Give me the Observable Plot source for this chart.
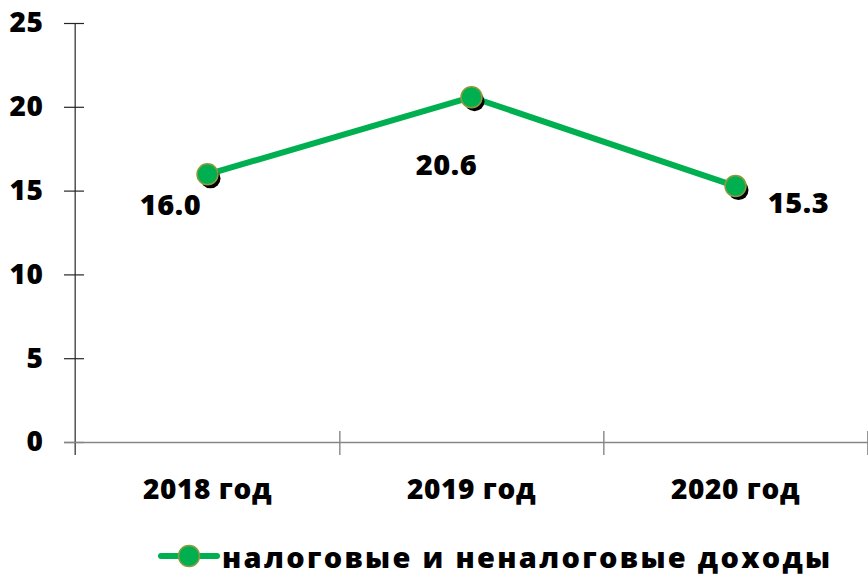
<!DOCTYPE html>
<html>
<head>
<meta charset="utf-8">
<script src="https://cdn.jsdelivr.net/npm/d3@7"></script>
<script src="https://cdn.jsdelivr.net/npm/@observablehq/plot@0.6"></script>
<style>
  html, body { margin: 0; padding: 0; background: #fff; }
  #wrap { width: 868px; height: 576px; position: relative; overflow: hidden; font-family: "Open Sans", sans-serif; }
  #legend { position: absolute; left: 158px; top: 536px; height: 40px; display: flex; align-items: center; }
  #legend span { font-weight: 800; font-size: 29px; letter-spacing: 2.3px; color: #000; margin-left: 2px; white-space: nowrap; }
</style>
</head>
<body>
<div id="wrap"><div id="chart"></div><div id="legend"></div></div>
<script>
const categories = ["2018 год", "2019 год", "2020 год"];
const values = [16.0, 20.6, 15.3];
const valueLabels = ["16.0", "20.6", "15.3"];
const yTicks = [0, 5, 10, 15, 20, 25];
const seriesName = "налоговые и неналоговые доходы";

const data = categories.map((c, i) => ({cat: c, value: values[i], label: valueLabels[i]}));

const W = 868, H = 530, ML = 74, MR = 0, MT = 23, MB = 88;
const bw = (W - ML - MR) / categories.length;
const green = "#00B050";
const font = {fontFamily: "Open Sans", fontWeight: 800};

const labelOffsets = [[-37, 31], [-25, 68], [63, 18]];

const chart = Plot.plot({
  width: W, height: H,
  marginLeft: ML, marginRight: MR, marginTop: MT, marginBottom: MB,
  style: {fontFamily: "Open Sans", fontWeight: 800, fontSize: "28px", color: "#000", background: "#fff", letterSpacing: "0.6px"},
  x: {type: "band", domain: categories, padding: 0, axis: null, label: null},
  y: {domain: [0, 25], axis: null, label: null},
  marks: [
    // y tick marks crossing the axis
    Plot.ruleY(yTicks, {y: d => d, insetLeft: -10, insetRight: W - ML - MR - 10, stroke: "#262626", strokeWidth: 1.2}),
    // y axis line
    Plot.ruleX([categories[0]], {x: d => d, dx: -bw / 2, insetBottom: -13, stroke: "#262626", strokeWidth: 1.2}),
    // x axis line
    Plot.ruleY([0], {insetLeft: -10, stroke: "#868686", strokeWidth: 1.6}),
    // category separators
    Plot.ruleX(categories, {x: d => d, dx: bw / 2, y1: 0, y2: 0, insetTop: -11, insetBottom: -13, stroke: "#868686", strokeWidth: 1.4}),
    Plot.axisY({ticks: yTicks, tickSize: 0, tickPadding: 31, fontSize: 28, label: null, ...font}),
    Plot.axisX({tickSize: 0, tickPadding: 37, fontSize: 28, label: null, ...font}),
    Plot.line(data, {x: "cat", y: "value", stroke: green, strokeWidth: 6}),
    Plot.dot(data, {x: "cat", y: "value", r: 10, fill: "#000", dx: 3, dy: 4}),
    Plot.dot(data, {x: "cat", y: "value", r: 10.5, fill: green, stroke: "#8C9A3C", strokeWidth: 1.5}),
    ...data.map((d, i) => Plot.text([d], {
      x: "cat", y: "value", text: "label",
      dx: labelOffsets[i][0], dy: labelOffsets[i][1],
      fontSize: 29, fill: "#000", ...font
    }))
  ]
});
document.getElementById("chart").appendChild(chart);

const legend = document.getElementById("legend");
legend.innerHTML = `<svg width="62" height="28" viewBox="0 0 62 28">
  <line x1="3" y1="14" x2="59" y2="14" stroke="${green}" stroke-width="6" stroke-linecap="round"></line>
  <circle cx="31" cy="14" r="10.5" fill="${green}" stroke="#8C9A3C" stroke-width="1.5"></circle>
</svg>`;
const span = document.createElement("span");
span.textContent = seriesName;
legend.appendChild(span);
</script>
</body>
</html>
